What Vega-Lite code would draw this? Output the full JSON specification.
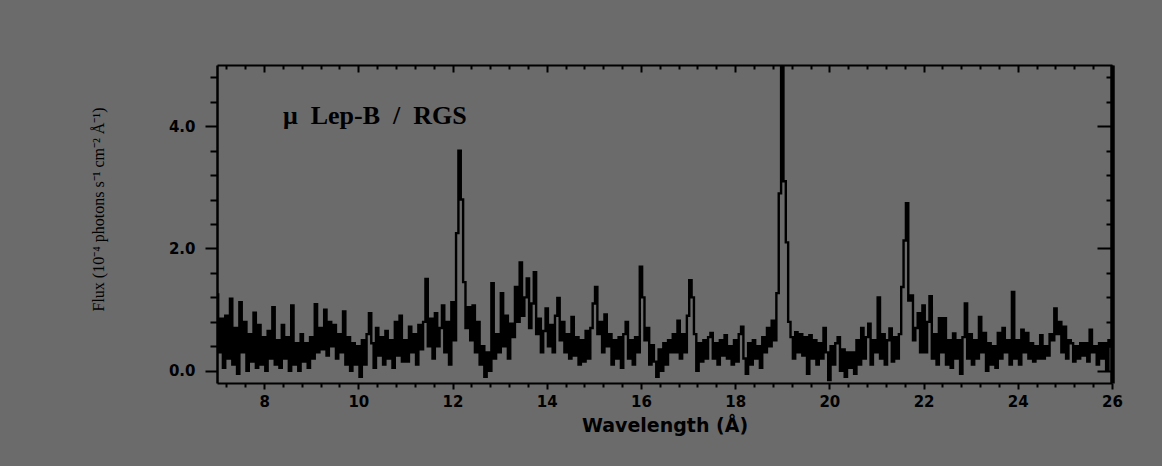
{
  "$schema": "https://vega.github.io/schema/vega-lite/v6.json",
  "width": 895,
  "height": 318,
  "autosize": {"type": "none"},
  "padding": {"left": 217, "top": 65, "right": 50, "bottom": 83},
  "background": "#6b6b6b",
  "config": {"view": {"stroke": null}, "axis": {"grid": false, "domainColor": "black", "tickColor": "black", "labelColor": "black", "titleColor": "black", "labelFlush": false, "labelOverlap": false}},
  "data": {"values": [
    {"w":7.00,"f":1.25},{"w":7.05,"f":0.3},{"w":7.10,"f":0.85},{"w":7.15,"f":0.05},{"w":7.20,"f":0.9},{"w":7.25,"f":0.2},{"w":7.30,"f":1.18},{"w":7.35,"f":0.1},{"w":7.40,"f":0.7},{"w":7.45,"f":-0.05},
    {"w":7.50,"f":1.12},{"w":7.55,"f":0.3},{"w":7.60,"f":0.8},{"w":7.65,"f":0.0},{"w":7.70,"f":0.6},{"w":7.75,"f":0.15},{"w":7.80,"f":0.95},{"w":7.85,"f":0.05},{"w":7.90,"f":0.75},{"w":7.95,"f":0.1},
    {"w":8.00,"f":0.55},{"w":8.05,"f":0.0},{"w":8.10,"f":0.65},{"w":8.15,"f":0.2},{"w":8.20,"f":1.04},{"w":8.25,"f":0.1},{"w":8.30,"f":0.5},{"w":8.35,"f":0.05},{"w":8.40,"f":0.75},{"w":8.45,"f":0.2},
    {"w":8.50,"f":0.55},{"w":8.55,"f":0.0},{"w":8.60,"f":1.07},{"w":8.65,"f":0.1},{"w":8.70,"f":0.45},{"w":8.75,"f":0.0},{"w":8.80,"f":0.6},{"w":8.85,"f":0.15},{"w":8.90,"f":0.45},{"w":8.95,"f":0.05},
    {"w":9.00,"f":0.55},{"w":9.05,"f":0.2},{"w":9.10,"f":1.09},{"w":9.15,"f":0.3},{"w":9.20,"f":0.7},{"w":9.25,"f":0.35},{"w":9.30,"f":1.0},{"w":9.35,"f":0.25},{"w":9.40,"f":0.8},{"w":9.45,"f":0.4},
    {"w":9.50,"f":0.75},{"w":9.55,"f":0.2},{"w":9.60,"f":0.6},{"w":9.65,"f":0.3},{"w":9.70,"f":0.97},{"w":9.75,"f":0.1},{"w":9.80,"f":0.55},{"w":9.85,"f":0.0},{"w":9.90,"f":0.45},{"w":9.95,"f":0.1},
    {"w":10.00,"f":0.4},{"w":10.05,"f":-0.1},{"w":10.10,"f":0.5},{"w":10.15,"f":0.1},{"w":10.20,"f":0.6},{"w":10.25,"f":0.94},{"w":10.30,"f":0.45},{"w":10.35,"f":0.05},{"w":10.40,"f":0.7},{"w":10.45,"f":0.25},
    {"w":10.50,"f":0.55},{"w":10.55,"f":0.1},{"w":10.60,"f":0.65},{"w":10.65,"f":0.2},{"w":10.70,"f":0.5},{"w":10.75,"f":0.05},{"w":10.80,"f":0.8},{"w":10.85,"f":0.25},{"w":10.90,"f":0.9},{"w":10.95,"f":0.15},
    {"w":11.00,"f":0.5},{"w":11.05,"f":0.15},{"w":11.10,"f":0.72},{"w":11.15,"f":0.3},{"w":11.20,"f":0.6},{"w":11.25,"f":0.1},{"w":11.30,"f":0.75},{"w":11.35,"f":0.35},{"w":11.40,"f":0.8},{"w":11.45,"f":1.5},
    {"w":11.50,"f":0.4},{"w":11.55,"f":0.85},{"w":11.60,"f":0.2},{"w":11.65,"f":0.94},{"w":11.70,"f":0.4},{"w":11.75,"f":0.7},{"w":11.80,"f":1.07},{"w":11.85,"f":0.3},{"w":11.90,"f":0.8},{"w":11.95,"f":0.1},
    {"w":12.00,"f":1.12},{"w":12.05,"f":0.5},{"w":12.10,"f":2.25},{"w":12.15,"f":3.6},{"w":12.20,"f":2.8},{"w":12.25,"f":1.45},{"w":12.30,"f":0.7},{"w":12.35,"f":1.04},{"w":12.40,"f":0.5},{"w":12.45,"f":1.07},
    {"w":12.50,"f":0.3},{"w":12.55,"f":0.8},{"w":12.60,"f":0.1},{"w":12.65,"f":0.4},{"w":12.70,"f":-0.1},{"w":12.75,"f":0.3},{"w":12.80,"f":0.0},{"w":12.85,"f":1.43},{"w":12.90,"f":0.2},{"w":12.95,"f":0.6},
    {"w":13.00,"f":0.3},{"w":13.05,"f":1.27},{"w":13.10,"f":0.4},{"w":13.15,"f":0.9},{"w":13.20,"f":0.2},{"w":13.25,"f":0.77},{"w":13.30,"f":0.55},{"w":13.35,"f":1.37},{"w":13.40,"f":0.8},{"w":13.45,"f":1.77},
    {"w":13.50,"f":0.9},{"w":13.55,"f":1.2},{"w":13.60,"f":1.51},{"w":13.65,"f":0.7},{"w":13.70,"f":1.1},{"w":13.75,"f":1.61},{"w":13.80,"f":0.6},{"w":13.85,"f":0.85},{"w":13.90,"f":0.3},{"w":13.95,"f":0.65},
    {"w":14.00,"f":1.02},{"w":14.05,"f":0.4},{"w":14.10,"f":0.75},{"w":14.15,"f":0.3},{"w":14.20,"f":0.9},{"w":14.25,"f":1.19},{"w":14.30,"f":0.5},{"w":14.35,"f":0.8},{"w":14.40,"f":0.3},{"w":14.45,"f":0.6},
    {"w":14.50,"f":0.2},{"w":14.55,"f":0.88},{"w":14.60,"f":0.25},{"w":14.65,"f":0.55},{"w":14.70,"f":0.1},{"w":14.75,"f":0.5},{"w":14.80,"f":0.15},{"w":14.85,"f":0.65},{"w":14.90,"f":0.2},{"w":14.95,"f":0.7},
    {"w":15.00,"f":1.1},{"w":15.05,"f":1.37},{"w":15.10,"f":0.6},{"w":15.15,"f":0.8},{"w":15.20,"f":0.3},{"w":15.25,"f":0.92},{"w":15.30,"f":0.4},{"w":15.35,"f":0.6},{"w":15.40,"f":0.1},{"w":15.45,"f":0.5},
    {"w":15.50,"f":0.2},{"w":15.55,"f":0.55},{"w":15.60,"f":0.05},{"w":15.65,"f":0.6},{"w":15.70,"f":0.8},{"w":15.75,"f":0.2},{"w":15.80,"f":0.5},{"w":15.85,"f":0.1},{"w":15.90,"f":0.55},{"w":15.95,"f":0.3},
    {"w":16.00,"f":1.7},{"w":16.05,"f":1.2},{"w":16.10,"f":0.5},{"w":16.15,"f":0.7},{"w":16.20,"f":0.1},{"w":16.25,"f":0.42},{"w":16.30,"f":0.15},{"w":16.35,"f":-0.1},{"w":16.40,"f":0.35},{"w":16.45,"f":0.0},
    {"w":16.50,"f":0.45},{"w":16.55,"f":0.1},{"w":16.60,"f":0.5},{"w":16.65,"f":0.3},{"w":16.70,"f":0.6},{"w":16.75,"f":0.3},{"w":16.80,"f":0.82},{"w":16.85,"f":0.2},{"w":16.90,"f":0.6},{"w":16.95,"f":0.3},
    {"w":17.00,"f":0.9},{"w":17.05,"f":1.48},{"w":17.10,"f":1.2},{"w":17.15,"f":0.6},{"w":17.20,"f":0.0},{"w":17.25,"f":0.45},{"w":17.30,"f":0.15},{"w":17.35,"f":0.5},{"w":17.40,"f":0.2},{"w":17.45,"f":0.55},
    {"w":17.50,"f":0.62},{"w":17.55,"f":0.2},{"w":17.60,"f":0.45},{"w":17.65,"f":0.1},{"w":17.70,"f":0.5},{"w":17.75,"f":0.25},{"w":17.80,"f":0.58},{"w":17.85,"f":0.2},{"w":17.90,"f":0.4},{"w":17.95,"f":0.1},
    {"w":18.00,"f":0.5},{"w":18.05,"f":0.15},{"w":18.10,"f":0.6},{"w":18.15,"f":0.72},{"w":18.20,"f":0.2},{"w":18.25,"f":-0.05},{"w":18.30,"f":0.45},{"w":18.35,"f":0.1},{"w":18.40,"f":0.5},{"w":18.45,"f":0.2},
    {"w":18.50,"f":0.4},{"w":18.55,"f":0.05},{"w":18.60,"f":0.55},{"w":18.65,"f":0.3},{"w":18.70,"f":0.7},{"w":18.75,"f":0.4},{"w":18.80,"f":0.82},{"w":18.85,"f":0.5},{"w":18.90,"f":1.27},{"w":18.95,"f":2.9},
    {"w":19.00,"f":4.98},{"w":19.05,"f":3.1},{"w":19.10,"f":2.1},{"w":19.15,"f":0.8},{"w":19.20,"f":0.55},{"w":19.25,"f":0.2},{"w":19.30,"f":0.63},{"w":19.35,"f":0.3},{"w":19.40,"f":0.6},{"w":19.45,"f":0.25},
    {"w":19.50,"f":0.55},{"w":19.55,"f":-0.05},{"w":19.60,"f":0.58},{"w":19.65,"f":0.2},{"w":19.70,"f":0.5},{"w":19.75,"f":0.1},{"w":19.80,"f":0.45},{"w":19.85,"f":0.2},{"w":19.90,"f":0.7},{"w":19.95,"f":0.3},
    {"w":20.00,"f":-0.15},{"w":20.05,"f":0.4},{"w":20.10,"f":0.1},{"w":20.15,"f":0.45},{"w":20.20,"f":0.55},{"w":20.25,"f":0.0},{"w":20.30,"f":0.35},{"w":20.35,"f":-0.1},{"w":20.40,"f":0.3},{"w":20.45,"f":0.05},
    {"w":20.50,"f":0.3},{"w":20.55,"f":-0.05},{"w":20.60,"f":0.5},{"w":20.65,"f":0.1},{"w":20.70,"f":0.7},{"w":20.75,"f":0.2},{"w":20.80,"f":0.55},{"w":20.85,"f":0.77},{"w":20.90,"f":0.1},{"w":20.95,"f":0.5},
    {"w":21.00,"f":0.3},{"w":21.05,"f":1.2},{"w":21.10,"f":0.2},{"w":21.15,"f":0.6},{"w":21.20,"f":0.1},{"w":21.25,"f":0.5},{"w":21.30,"f":0.69},{"w":21.35,"f":0.15},{"w":21.40,"f":0.55},{"w":21.45,"f":0.2},
    {"w":21.50,"f":0.6},{"w":21.55,"f":1.37},{"w":21.60,"f":2.13},{"w":21.65,"f":2.74},{"w":21.70,"f":1.15},{"w":21.75,"f":1.23},{"w":21.80,"f":0.5},{"w":21.85,"f":0.7},{"w":21.90,"f":0.94},{"w":21.95,"f":0.3},
    {"w":22.00,"f":1.07},{"w":22.05,"f":0.3},{"w":22.10,"f":0.8},{"w":22.15,"f":1.22},{"w":22.20,"f":0.2},{"w":22.25,"f":0.6},{"w":22.30,"f":0.1},{"w":22.35,"f":0.86},{"w":22.40,"f":0.3},{"w":22.45,"f":0.86},
    {"w":22.50,"f":0.1},{"w":22.55,"f":0.5},{"w":22.60,"f":0.05},{"w":22.65,"f":0.61},{"w":22.70,"f":0.2},{"w":22.75,"f":0.5},{"w":22.80,"f":-0.05},{"w":22.85,"f":0.55},{"w":22.90,"f":1.1},{"w":22.95,"f":0.2},
    {"w":23.00,"f":0.6},{"w":23.05,"f":0.1},{"w":23.10,"f":0.5},{"w":23.15,"f":0.2},{"w":23.20,"f":0.88},{"w":23.25,"f":0.3},{"w":23.30,"f":0.62},{"w":23.35,"f":0.0},{"w":23.40,"f":0.45},{"w":23.45,"f":0.1},
    {"w":23.50,"f":0.4},{"w":23.55,"f":0.05},{"w":23.60,"f":0.62},{"w":23.65,"f":0.2},{"w":23.70,"f":0.7},{"w":23.75,"f":0.3},{"w":23.80,"f":0.5},{"w":23.85,"f":0.1},{"w":23.90,"f":1.29},{"w":23.95,"f":0.2},
    {"w":24.00,"f":0.5},{"w":24.05,"f":0.1},{"w":24.10,"f":0.67},{"w":24.15,"f":0.3},{"w":24.20,"f":0.62},{"w":24.25,"f":0.2},{"w":24.30,"f":0.45},{"w":24.35,"f":0.15},{"w":24.40,"f":0.4},{"w":24.45,"f":0.2},
    {"w":24.50,"f":0.58},{"w":24.55,"f":0.2},{"w":24.60,"f":0.4},{"w":24.65,"f":0.25},{"w":24.70,"f":0.6},{"w":24.75,"f":0.5},{"w":24.80,"f":1.02},{"w":24.85,"f":0.6},{"w":24.90,"f":0.8},{"w":24.95,"f":0.3},
    {"w":25.00,"f":0.72},{"w":25.05,"f":0.2},{"w":25.10,"f":0.5},{"w":25.15,"f":0.45},{"w":25.20,"f":0.15},{"w":25.25,"f":0.4},{"w":25.30,"f":0.2},{"w":25.35,"f":0.45},{"w":25.40,"f":0.25},{"w":25.45,"f":0.45},
    {"w":25.50,"f":0.15},{"w":25.55,"f":0.67},{"w":25.60,"f":0.3},{"w":25.65,"f":0.4},{"w":25.70,"f":0.1},{"w":25.75,"f":0.45},{"w":25.80,"f":0.2},{"w":25.85,"f":0.45},{"w":25.90,"f":0.0},{"w":25.95,"f":0.5},
    {"w":26.00,"f":0.4}
  ]},
  "layer": [
    {
      "mark": {"type": "line", "interpolate": "step", "color": "black", "strokeWidth": 2.4, "clip": true},
      "encoding": {
        "x": {"field": "w", "type": "quantitative", "scale": {"domain": [7, 26], "nice": false, "zero": false},
          "axis": {"orient": "bottom", "values": [8,10,12,14,16,18,20,22,24,26], "format": "d", "title": "Wavelength (Å)",
            "titleFont": "DejaVu Sans", "titleFontWeight": "bold", "titleFontSize": 19, "titlePadding": 7,
            "labelFont": "DejaVu Sans", "labelFontWeight": "bold", "labelFontSize": 15, "labelPadding": 5,
            "tickSize": 6, "tickWidth": 2, "domainWidth": 2}},
        "y": {"field": "f", "type": "quantitative", "scale": {"domain": [-0.2, 5], "nice": false, "zero": false},
          "axis": {"orient": "left", "values": [0, 2, 4], "format": ".1f", "title": "Flux (10⁻⁴ photons s⁻¹ cm⁻² Å⁻¹)",
            "titleFont": "Liberation Serif", "titleFontWeight": "normal", "titleFontSize": 16, "titlePadding": 62, "titleY": 144,
            "labelFont": "DejaVu Sans", "labelFontWeight": "bold", "labelFontSize": 15, "labelPadding": 10,
            "tickSize": 12, "tickWidth": 2, "domainWidth": 2.5}}
      }
    },
    {
      "mark": {"type": "point", "opacity": 0},
      "encoding": {
        "x": {"field": "w", "type": "quantitative", "scale": {"domain": [7, 26], "nice": false, "zero": false},
          "axis": {"orient": "bottom", "values": [7.2,7.6,8.4,8.8,9.2,9.6,10.4,10.8,11.2,11.6,12.4,12.8,13.2,13.6,14.4,14.8,15.2,15.6,16.4,16.8,17.2,17.6,18.4,18.8,19.2,19.6,20.4,20.8,21.2,21.6,22.4,22.8,23.2,23.6,24.4,24.8,25.2,25.6],
            "labels": false, "title": null, "domain": false, "tickSize": 4, "tickWidth": 2}},
        "y": {"field": "f", "type": "quantitative", "scale": {"domain": [-0.2, 5], "nice": false, "zero": false},
          "axis": {"orient": "left", "values": [0.4,0.8,1.2,1.6,2.4,2.8,3.2,3.6,4.4,4.8], "labels": false, "title": null, "domain": false, "tickSize": 7, "tickWidth": 2}}
      }
    },
    {
      "mark": {"type": "point", "opacity": 0},
      "encoding": {
        "x": {"field": "w", "type": "quantitative", "scale": {"domain": [7, 26], "nice": false, "zero": false},
          "axis": {"orient": "top", "values": [8,10,12,14,16,18,20,22,24,26], "labels": false, "title": null, "tickSize": -7, "tickWidth": 2, "domainWidth": 2}},
        "y": {"field": "f", "type": "quantitative", "scale": {"domain": [-0.2, 5], "nice": false, "zero": false},
          "axis": {"orient": "right", "values": [0, 2, 4], "labels": false, "title": null, "tickSize": -15, "tickWidth": 2, "domainWidth": 4.5}}
      }
    },
    {
      "data": {"values": [{"w": 8.4, "f": 4.16, "label": "μ\u00a0\u00a0Lep-B\u00a0\u00a0/\u00a0\u00a0RGS"}]},
      "mark": {"type": "text", "align": "left", "baseline": "middle", "font": "Liberation Serif", "fontWeight": "bold", "fontSize": 26, "color": "black"},
      "encoding": {
        "x": {"field": "w", "type": "quantitative", "scale": {"domain": [7, 26], "nice": false, "zero": false},
          "axis": {"orient": "top", "values": [7.2,7.6,8.4,8.8,9.2,9.6,10.4,10.8,11.2,11.6,12.4,12.8,13.2,13.6,14.4,14.8,15.2,15.6,16.4,16.8,17.2,17.6,18.4,18.8,19.2,19.6,20.4,20.8,21.2,21.6,22.4,22.8,23.2,23.6,24.4,24.8,25.2,25.6],
            "labels": false, "title": null, "domain": false, "tickSize": -4, "tickWidth": 2}},
        "y": {"field": "f", "type": "quantitative", "scale": {"domain": [-0.2, 5], "nice": false, "zero": false},
          "axis": {"orient": "right", "values": [0.4,0.8,1.2,1.6,2.4,2.8,3.2,3.6,4.4,4.8], "labels": false, "title": null, "domain": false, "tickSize": -6, "tickWidth": 2}},
        "text": {"field": "label"}
      }
    }
  ],
  "resolve": {"axis": {"x": "independent", "y": "independent"}}
}
